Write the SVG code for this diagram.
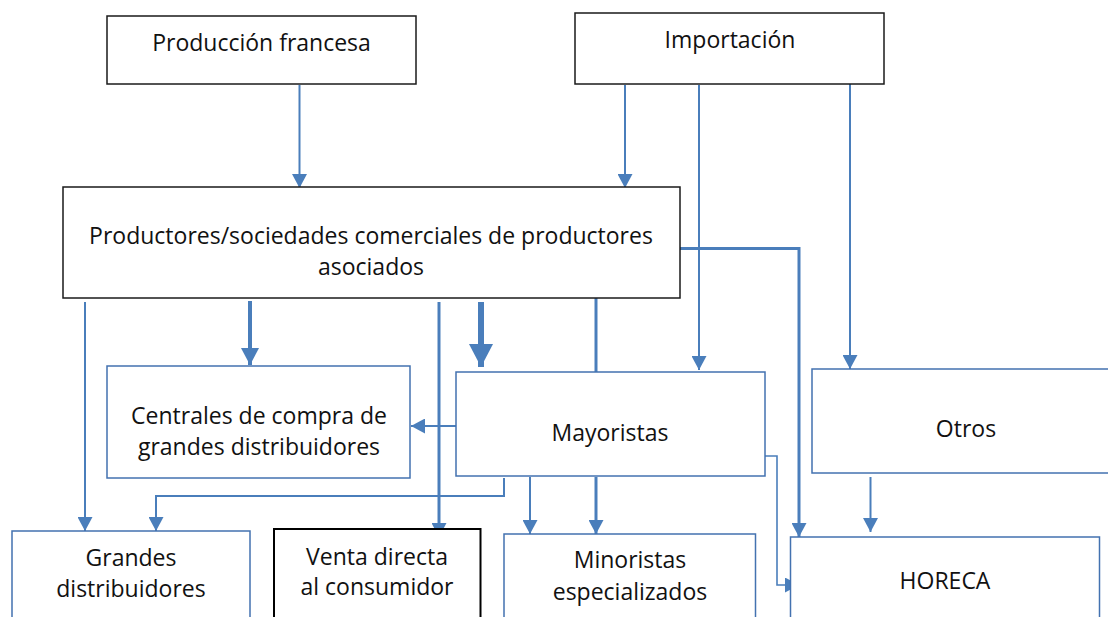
<svg xmlns="http://www.w3.org/2000/svg" width="1108" height="617" viewBox="0 0 1108 617">
<style>
.bk{fill:#fff;stroke:#1a1a1a;stroke-width:1.5}
.bl{fill:#fff;stroke:#4372b0;stroke-width:1.5}
.vd{fill:#fff;stroke:#000;stroke-width:2}
text{font-family:"Open Sans","Noto Sans",sans-serif;font-size:23px;fill:#111;text-anchor:middle}
.c{fill:none;stroke:#4a7ebb;stroke-width:2}
.t3{stroke-width:3}
.t4{stroke-width:4}
.t6{stroke-width:6}
.t15{stroke-width:1.6}
</style>
<defs>
<marker id="a" markerUnits="userSpaceOnUse" markerWidth="15" markerHeight="15" refX="14" refY="7.5" orient="auto" viewBox="0 0 14 15"><path d="M0,0 L14,7.5 L0,15 z" fill="#4a7ebb"/></marker>
<marker id="m" markerUnits="userSpaceOnUse" markerWidth="17" markerHeight="18" refX="17" refY="9" orient="auto" viewBox="0 0 17 18"><path d="M0,0 L17,9 L0,18 z" fill="#4a7ebb"/></marker>
<marker id="b" markerUnits="userSpaceOnUse" markerWidth="23" markerHeight="24" refX="23" refY="12" orient="auto" viewBox="0 0 23 24"><path d="M0,0 L23,12 L0,24 z" fill="#4a7ebb"/></marker>
</defs>
<g id="connectors">
<path class="c" d="M299.5,85 V188" marker-end="url(#a)"/>
<path class="c" d="M625,85 V188" marker-end="url(#a)"/>
<path class="c" d="M699,85 V370" marker-end="url(#a)"/>
<path class="c" d="M850,84 V369" marker-end="url(#a)"/>
<path class="c t3" d="M680,248.5 H799 V537" marker-end="url(#a)"/>
<path class="c" d="M85,302 V531" marker-end="url(#a)"/>
<path class="c t4" d="M250,301 V365" marker-end="url(#m)"/>
<path class="c t3" d="M439,302 V537" marker-end="url(#a)"/>
<path class="c t6" d="M481,302 V367" marker-end="url(#b)"/>
<path class="c t3" d="M596,298 V372"/>
<path class="c" d="M456,426 H411" marker-end="url(#a)"/>
<path class="c" d="M504,478 V496 H156 V531" marker-end="url(#a)"/>
<path class="c" d="M530,477 V534" marker-end="url(#a)"/>
<path class="c t3" d="M596,477 V534" marker-end="url(#a)"/>
<path class="c t15" d="M765,456 H777 V585 H799" marker-end="url(#a)"/>
<path class="c" d="M870.5,477 V532" marker-end="url(#a)"/>
</g>
<g id="produccion"><rect class="bk" x="107" y="16" width="309" height="68"/><text x="261.5" y="51">Producción francesa</text></g>
<g id="importacion"><rect class="bk" x="575" y="13" width="309" height="71"/><text x="730" y="48">Importación</text></g>
<g id="productores"><rect class="bk" x="63" y="187" width="617" height="111"/><text x="371" y="244">Productores/sociedades comerciales de productores</text><text x="371" y="275">asociados</text></g>
<g id="centrales"><rect class="bl" x="107" y="366" width="303" height="112"/><text x="259" y="424">Centrales de compra de</text><text x="259" y="455">grandes distribuidores</text></g>
<g id="mayoristas"><rect class="bl" x="456" y="372" width="309" height="104"/><text x="610" y="441">Mayoristas</text></g>
<g id="otros"><rect class="bl" x="812" y="369" width="300" height="104"/><text x="966" y="437">Otros</text></g>
<g id="grandes"><rect class="bl" x="12" y="531" width="238" height="90"/><text x="131" y="566">Grandes</text><text x="131" y="597">distribuidores</text></g>
<g id="venta"><rect class="vd" x="274" y="529" width="206.5" height="95"/><text x="377" y="565">Venta directa</text><text x="377" y="595">al consumidor</text></g>
<g id="minoristas"><rect class="bl" x="504" y="534" width="251.5" height="90"/><text x="630" y="568">Minoristas</text><text x="630" y="600">especializados</text></g>
<g id="horeca"><rect class="bl" x="790.5" y="537" width="309" height="90"/><text x="945" y="589">HORECA</text></g>
</svg>
